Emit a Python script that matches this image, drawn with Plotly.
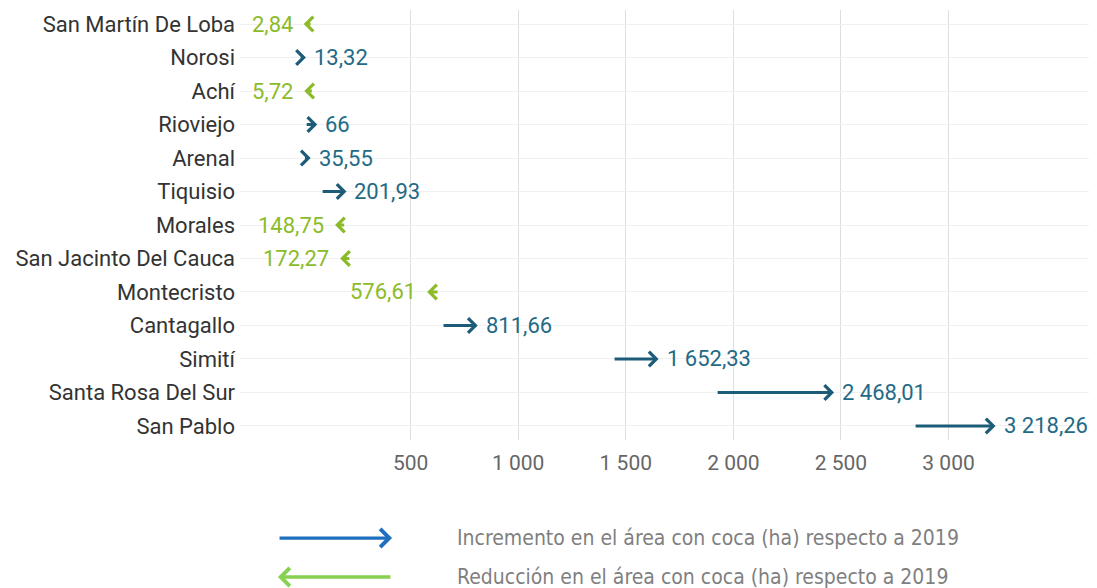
import plotly.graph_objects as go

municipios = [
    "San Martín De Loba", "Norosi", "Achí", "Rioviejo", "Arenal", "Tiquisio",
    "Morales", "San Jacinto Del Cauca", "Montecristo", "Cantagallo", "Simití",
    "Santa Rosa Del Sur", "San Pablo",
]
# área con coca (ha): 2019 (inicio de la flecha) y 2020 (punta / etiqueta)
area_2019 = [42, 0, 48, 10, 2, 84, 198, 222, 632, 646, 1441, 1920, 2840]
area_2020 = [2.84, 13.32, 5.72, 66, 35.55, 201.93, 148.75, 172.27, 576.61,
             811.66, 1652.33, 2468.01, 3218.26]
ticks_x = [500, 1000, 1500, 2000, 2500, 3000]

BLUE = "#1d5c78"
BLUE_TXT = "#236a86"
GREEN = "#8cbb2a"
FONT = "Roboto, sans-serif"
MIN_LEN = 30  # flechas muy cortas no se dibujan, se alarga un poco la cola


def fmt(v):
    s = f"{v:,.2f}".replace(",", " ").replace(".", ",")
    return s[:-3] if s.endswith(",00") else s


idx = list(range(len(municipios)))

fig = go.Figure()
fig.add_trace(go.Scatter(x=area_2020, y=idx, mode="markers",
                         marker=dict(opacity=0), hoverinfo="skip", showlegend=False))

annotations = []
for i, (a, b) in enumerate(zip(area_2019, area_2020)):
    up = b >= a
    col = BLUE if up else GREEN
    tail = min(a, b - MIN_LEN) if up else max(a, b + MIN_LEN)
    annotations.append(dict(
        x=b, y=i, ax=tail, ay=i, xref="x", yref="y", axref="x", ayref="y",
        text="", showarrow=True, arrowhead=4, arrowsize=0.95, arrowwidth=3,
        arrowcolor=col, standoff=0, startstandoff=0,
    ))
    annotations.append(dict(
        x=b, y=i, xref="x", yref="y", text=fmt(b), showarrow=False,
        xanchor="left" if up else "right", xshift=6 if up else -9,
        font=dict(family=FONT, size=22, color=BLUE_TXT if up else GREEN),
    ))

# leyenda
legend_font = dict(family="Liberation Sans Narrow, DejaVu Sans Condensed, Arial Narrow, sans-serif",
                   size=21, color="#7f7f7f")
annotations += [
    dict(x=0.1774, y=-0.228, xref="paper", yref="paper", ax=-114, ay=0, text="",
         showarrow=True, arrowhead=4, arrowsize=1.06, arrowwidth=3.3,
         arrowcolor="#1f6fbf", standoff=0),
    dict(x=0.0443, y=-0.3186, xref="paper", yref="paper", ax=114, ay=0, text="",
         showarrow=True, arrowhead=4, arrowsize=1.06, arrowwidth=3.3,
         arrowcolor="#88d050", standoff=0),
    dict(x=0.2509, y=-0.228, xref="paper", yref="paper", xanchor="left",
         yanchor="middle", showarrow=False, font=legend_font,
         text="Incremento en el área con coca (ha) respecto a 2019"),
    dict(x=0.2509, y=-0.3186, xref="paper", yref="paper", xanchor="left",
         yanchor="middle", showarrow=False, font=legend_font,
         text="Reducción en el área con coca (ha) respecto a 2019"),
]

fig.update_layout(
    width=1089, height=580,
    margin=dict(l=232, r=0, t=2, b=148),
    plot_bgcolor="white", paper_bgcolor="white",
    separators=", ",
    annotations=annotations,
    font=dict(family=FONT),
)
fig.update_xaxes(
    range=[-293, 3690], tickvals=ticks_x, separatethousands=True,
    showgrid=True, gridcolor="#dedede",
    gridwidth=1, zeroline=False, showline=False, ticks="",
    tickfont=dict(family=FONT, size=21, color="#666666"), ticklabelstandoff=8,
)
fig.update_yaxes(
    range=[12.42, -0.42], tickvals=idx, ticktext=municipios, showgrid=True,
    gridcolor="#f0f0f0", gridwidth=1, zeroline=False, showline=False, ticks="",
    tickfont=dict(family=FONT, size=22, color="#333333"), ticklabelstandoff=4,
)

fig.write_html("out.html")
